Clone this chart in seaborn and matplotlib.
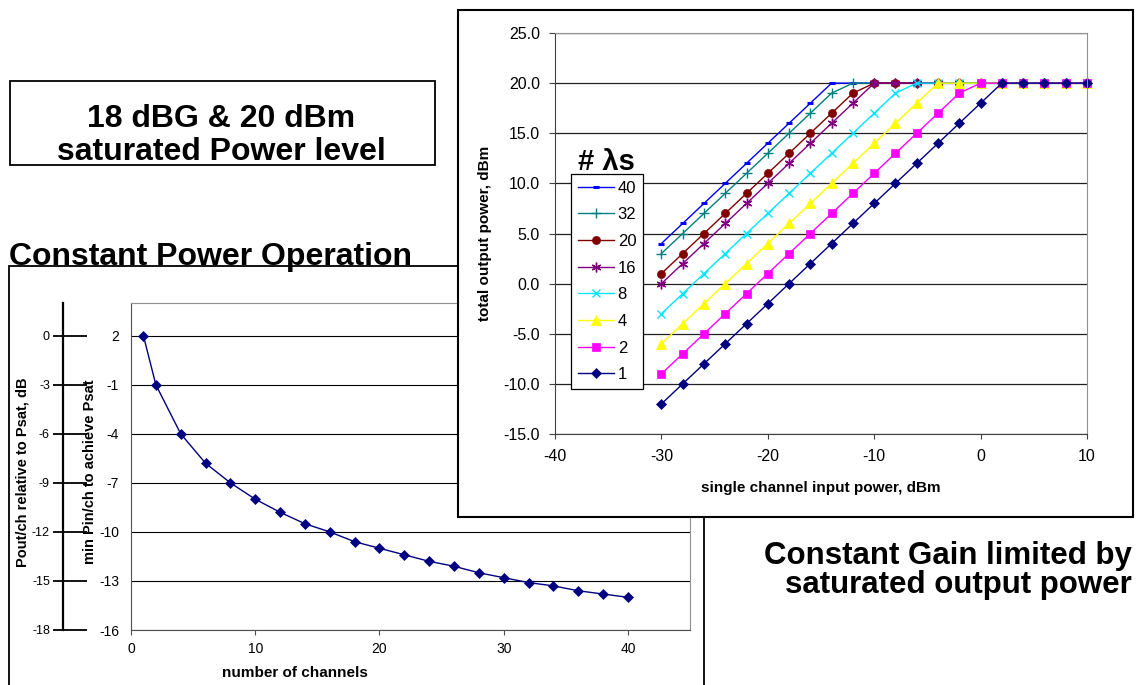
import matplotlib
matplotlib.use("Agg")
import matplotlib.pyplot as plt
from matplotlib.patches import Rectangle
from matplotlib.ticker import FormatStrFormatter
import seaborn as sns

plt.rcParams['font.family'] = ['Liberation Sans', 'DejaVu Sans']
plt.rcParams['axes.unicode_minus'] = False

# left chart: min input power per channel vs number of channels
n_channels = [1, 2, 4, 6, 8, 10, 12, 14, 16, 18, 20, 22, 24, 26, 28, 30, 32, 34, 36, 38, 40]
min_pin = [2.0, -1.0, -4.0, -5.8, -7.0, -8.0, -8.8, -9.5, -10.0, -10.6, -11.0,
           -11.4, -11.8, -12.1, -12.5, -12.8, -13.1, -13.3, -13.6, -13.8, -14.0]
left_x_ticks = [0, 10, 20, 30, 40]
left_y_ticks = [2, -1, -4, -7, -10, -13, -16]
pout_ticks = [0, -3, -6, -9, -12, -15, -18]

# right chart: total output power vs single channel input power
pin = [-30, -28, -26, -24, -22, -20, -18, -16, -14, -12, -10, -8, -6, -4, -2, 0, 2, 4, 6, 8, 10]
out_40 = [4, 6, 8, 10, 12, 14, 16, 18, 20, 20, 20, 20, 20, 20, 20, 20, 20, 20, 20, 20, 20]
out_32 = [3, 5, 7, 9, 11, 13, 15, 17, 19, 20, 20, 20, 20, 20, 20, 20, 20, 20, 20, 20, 20]
out_20 = [1, 3, 5, 7, 9, 11, 13, 15, 17, 19, 20, 20, 20, 20, 20, 20, 20, 20, 20, 20, 20]
out_16 = [0, 2, 4, 6, 8, 10, 12, 14, 16, 18, 20, 20, 20, 20, 20, 20, 20, 20, 20, 20, 20]
out_8 = [-3, -1, 1, 3, 5, 7, 9, 11, 13, 15, 17, 19, 20, 20, 20, 20, 20, 20, 20, 20, 20]
out_4 = [-6, -4, -2, 0, 2, 4, 6, 8, 10, 12, 14, 16, 18, 20, 20, 20, 20, 20, 20, 20, 20]
out_2 = [-9, -7, -5, -3, -1, 1, 3, 5, 7, 9, 11, 13, 15, 17, 19, 20, 20, 20, 20, 20, 20]
out_1 = [-12, -10, -8, -6, -4, -2, 0, 2, 4, 6, 8, 10, 12, 14, 16, 18, 20, 20, 20, 20, 20]
series_labels = ['40', '32', '20', '16', '8', '4', '2', '1']
series_values = [out_40, out_32, out_20, out_16, out_8, out_4, out_2, out_1]
right_x_ticks = [-40, -30, -20, -10, 0, 10]
right_y_ticks = [-15, -10, -5, 0, 5, 10, 15, 20, 25]

# styles per series (colour, marker, size, edge width)
styles = [
    ('#0000FF', '_', 4, 2.2),
    ('#008080', '+', 7, 1.0),
    ('#800000', 'o', 5.8, 0.5),
    ('#800080', (6, 2, 0), 7, 1.0),
    ('#00E5FF', 'x', 6, 1.0),
    ('#FFFF00', '^', 6.5, 0.5),
    ('#FF00FF', 's', 5.2, 0.5),
    ('#000080', 'D', 4.6, 0.5),
]

W, H = 1141, 685


def fx(px):
    return px / W


def fy(py):
    return 1 - py / H


fig = plt.figure(figsize=(W / 100, H / 100), dpi=100)

# ---------- left panel ----------
fig.add_artist(Rectangle((fx(9), fy(700)), (704 - 9) / W, (700 - 266) / H,
                         transform=fig.transFigure, fill=False, ec='black',
                         lw=1.3, zorder=0.5))
fig.text(fx(9), fy(265), 'Constant Power Operation', ha='left', va='baseline',
         size=23, weight='bold')

ax = fig.add_axes([fx(131), fy(630), (690 - 131) / W, (630 - 303) / H], zorder=0)
sns.lineplot(x=n_channels, y=min_pin, ax=ax, color='#000080', marker='D',
             markersize=4.6, markeredgecolor='#000080', markeredgewidth=0.5,
             linewidth=1.0, errorbar=None, clip_on=False)
ax.set_xlim(0, 45)
ax.set_ylim(-16, 4)
ax.set_xticks(left_x_ticks)
ax.set_yticks(left_y_ticks)
ax.grid(axis='y', color='black', lw=0.8)
ax.set_axisbelow(True)
for s in ['top', 'right']:
    ax.spines[s].set_color('#909090')
for s in ['left', 'bottom']:
    ax.spines[s].set_color('#505050')
ax.tick_params(axis='x', direction='out', length=3.6, width=0.8, color='#505050',
               labelsize=10, pad=5)
ax.tick_params(axis='y', length=0, labelsize=10, pad=8.6)
for lbl in ax.get_yticklabels():
    lbl.set_bbox(dict(facecolor='white', edgecolor='none', pad=1.5))

# second scale: Pout/ch relative to Psat (= Pin - 2)
sec_loc = (63 - 131) / 559
sec = ax.secondary_yaxis(sec_loc, functions=(lambda y: y - 2, lambda y: y + 2))
sec.set_yticks(pout_ticks)
sec.tick_params(direction='in', length=17, width=1.3, color='black',
                labelsize=9, pad=9.4)
for s in sec.spines.values():
    s.set_linewidth(1.6)
    s.set_color('black')
# short outer stubs of the same ticks
sec_out = ax.secondary_yaxis(sec_loc, functions=(lambda y: y - 2, lambda y: y + 2))
sec_out.set_yticks(pout_ticks)
sec_out.tick_params(direction='out', length=7, width=1.3, color='black',
                    labelleft=False, labelright=False)
for s in sec_out.spines.values():
    s.set_visible(False)

ax.text(-0.0742, 0.483, 'min Pin/ch to achieve Psat', transform=ax.transAxes,
        rotation=90, ha='center', va='center', size=10.5, weight='bold')
ax.text(-0.194, 0.483, 'Pout/ch relative to Psat, dB', transform=ax.transAxes,
        rotation=90, ha='center', va='center', size=10.5, weight='bold')
ax.text(0.2934, -0.1315, 'number of channels', transform=ax.transAxes,
        ha='center', va='center', size=11, weight='bold')

# ---------- text box top left ----------
fig.add_artist(Rectangle((fx(10), fy(165)), (435 - 10) / W, (165 - 81) / H,
                         transform=fig.transFigure, fill=False, ec='black', lw=1.3))
fig.text(fx(221), fy(127), '18 dBG & 20 dBm', ha='center', va='baseline',
         size=23, weight='bold')
fig.text(fx(221), fy(160), 'saturated Power level', ha='center', va='baseline',
         size=23, weight='bold')

# ---------- right panel ----------
fig.add_artist(Rectangle((fx(458), fy(517)), (1133 - 458) / W, (517 - 10) / H,
                         transform=fig.transFigure, fc='white', ec='black',
                         lw=1.5, zorder=1))

ax2 = fig.add_axes([fx(555), fy(434), (1087 - 555) / W, (434 - 33) / H], zorder=2)
for lab, vals, (c, m, ms, mew) in zip(series_labels, series_values, styles):
    sns.lineplot(x=pin, y=vals, ax=ax2, color=c, marker=m, markersize=ms,
                 markeredgecolor=c, markerfacecolor=c, markeredgewidth=mew,
                 linewidth=1.0, errorbar=None, label=lab, clip_on=False)
ax2.set_xlim(-40, 10)
ax2.set_ylim(-15, 25)
ax2.set_xticks(right_x_ticks)
ax2.set_yticks(right_y_ticks)
ax2.yaxis.set_major_formatter(FormatStrFormatter('%.1f'))
ax2.grid(axis='y', color='#202020', lw=0.9)
ax2.set_axisbelow(True)
for s in ['top', 'right']:
    ax2.spines[s].set_color('#909090')
for s in ['left', 'bottom']:
    ax2.spines[s].set_color('#404040')
ax2.tick_params(axis='x', direction='out', length=3.6, width=0.8, color='#404040',
                labelsize=11.5, pad=7)
ax2.tick_params(axis='y', direction='out', length=4.3, width=0.8, color='#404040',
                labelsize=11.5, pad=6.5)
ax2.text(-0.1316, 0.5, 'total output power, dBm', transform=ax2.transAxes,
         rotation=90, ha='center', va='center', size=11, weight='bold')
ax2.text(0.5, -0.1347, 'single channel input power, dBm', transform=ax2.transAxes,
         ha='center', va='center', size=11, weight='bold')

leg = ax2.legend(loc='upper left', bbox_to_anchor=(fx(571), fy(174)),
                 bbox_transform=fig.transFigure, borderaxespad=0, fontsize=12,
                 frameon=True, fancybox=False, framealpha=1, edgecolor='black',
                 handlelength=2.2, handletextpad=0.2, labelspacing=0.7,
                 borderpad=0.4)
leg.get_frame().set_linewidth(0.9)
fig.text(fx(606), fy(170), '# λs', ha='center', va='baseline', size=21,
         weight='bold', zorder=5)

# ---------- text bottom right ----------
fig.text(fx(1132), fy(564), 'Constant Gain limited by', ha='right', va='baseline',
         size=22.5, weight='bold')
fig.text(fx(1132), fy(593), 'saturated output power', ha='right', va='baseline',
         size=22.5, weight='bold')

fig.savefig('out.png', dpi=100)
